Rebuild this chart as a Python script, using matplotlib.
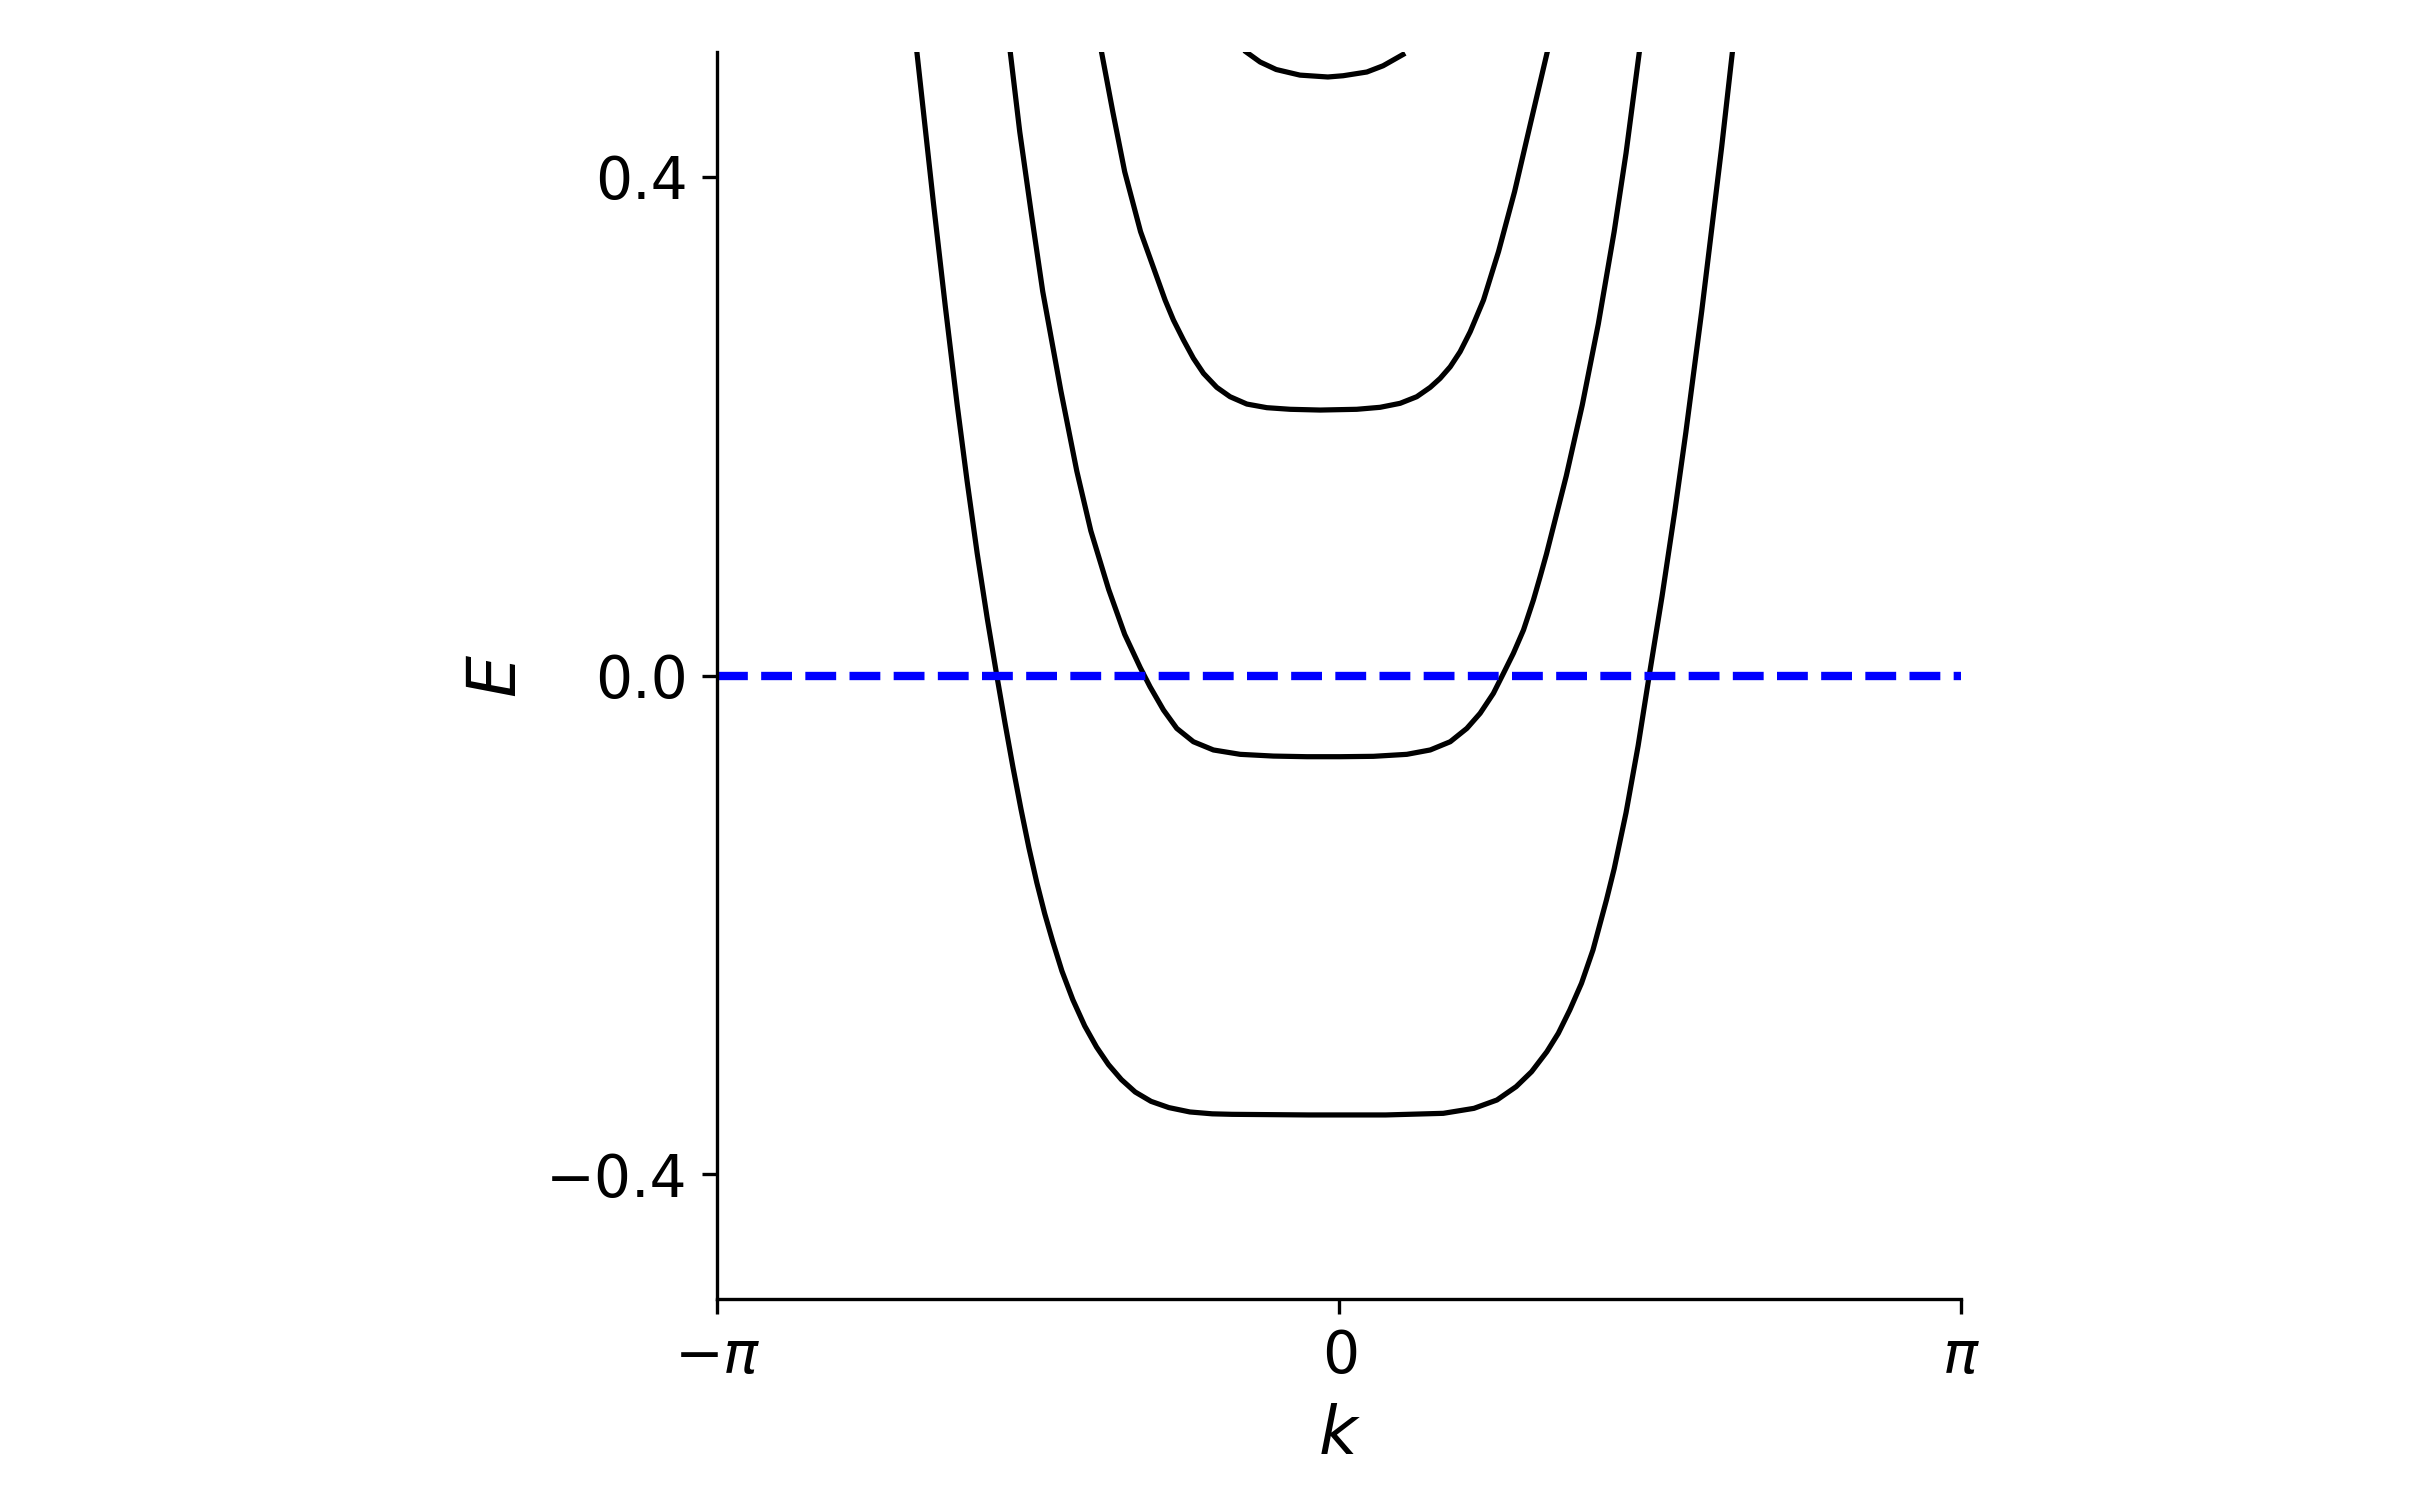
import numpy as np
import matplotlib
matplotlib.use('Agg')
import matplotlib.pyplot as plt

# bands: (k, E) pairs, left to right
k1 = [-2.136, -2.049, -1.989, -1.929, -1.879, -1.828, -1.777, -1.729, -1.687, -1.647,
      -1.607, -1.567, -1.527, -1.487, -1.447, -1.400, -1.345, -1.285, -1.225, -1.165,
      -1.100, -1.030, -0.950, -0.860, -0.754, -0.641, -0.541, -0.153, 0.235, 0.526,
      0.681, 0.797, 0.894, 0.972, 1.049, 1.107, 1.165, 1.224, 1.282, 1.350,
      1.389, 1.449, 1.510, 1.566, 1.631, 1.695, 1.751, 1.831, 1.932, 1.986]
E1 = [0.505, 0.379, 0.296, 0.217, 0.156, 0.098, 0.0456, 0.0, -0.0386, -0.0738,
      -0.107, -0.138, -0.166, -0.191, -0.213, -0.237, -0.260, -0.281, -0.298, -0.312,
      -0.324, -0.334, -0.3415, -0.3465, -0.3500, -0.3515, -0.3519, -0.3524, -0.3524, -0.3511,
      -0.3471, -0.3404, -0.3297, -0.3177, -0.3017, -0.2869, -0.2682, -0.2468, -0.2201, -0.180,
      -0.155, -0.110, -0.0563, 0.0, 0.0637, 0.1315, 0.195, 0.292, 0.424, 0.5]

k2 = [-1.661, -1.613, -1.556, -1.497, -1.405, -1.325, -1.254, -1.164, -1.083, -1.005,
      -0.955, -0.887, -0.820, -0.736, -0.635, -0.500, -0.332, -0.163, 0.005, 0.173,
      0.342, 0.460, 0.561, 0.645, 0.712, 0.779, 0.830, 0.880, 0.931, 0.981,
      1.015, 1.047, 1.147, 1.228, 1.309, 1.389, 1.449, 1.516]
E2 = [0.5, 0.436, 0.372, 0.308, 0.228, 0.164, 0.116, 0.069, 0.033, 0.0065,
      -0.0090, -0.0277, -0.0424, -0.0531, -0.0597, -0.0632, -0.0646, -0.0651, -0.0651, -0.0648,
      -0.0632, -0.0597, -0.0531, -0.0424, -0.0303, -0.0143, 0.0018, 0.0178, 0.0365, 0.0605,
      0.0792, 0.0974, 0.160, 0.217, 0.282, 0.356, 0.419, 0.5]

k3 = [-1.200, -1.143, -1.083, -1.003, -0.879, -0.837, -0.786, -0.736, -0.685, -0.618,
      -0.551, -0.466, -0.365, -0.247, -0.096, 0.089, 0.207, 0.308, 0.392, 0.460,
      0.510, 0.561, 0.611, 0.662, 0.729, 0.805, 0.886, 0.966, 1.051]
E3 = [0.5, 0.452, 0.404, 0.356, 0.3011, 0.2851, 0.2690, 0.2544, 0.2423, 0.2311,
      0.2236, 0.2177, 0.2148, 0.2135, 0.2129, 0.2135, 0.2151, 0.2183, 0.2236, 0.2311,
      0.2383, 0.2476, 0.2597, 0.2757, 0.3011, 0.340, 0.388, 0.4425, 0.5]

k4 = [-0.469, -0.399, -0.318, -0.198, -0.057, 0.020, 0.140, 0.222, 0.322]
E4 = [0.5, 0.492, 0.486, 0.4815, 0.480, 0.481, 0.484, 0.489, 0.498]

bands = [(k1, E1), (k2, E2), (k3, E3), (k4, E4)]
fermi = 0.0

fig = plt.figure(figsize=(8.04, 5.0), dpi=300)
ax = fig.add_axes([0.2973, 0.134, 0.5158, 0.8313])

for ks, es in bands:
    ax.plot(ks, es, color='k', lw=1.25)
ax.axhline(fermi, color='blue', ls='--', lw=2)

ax.set_xlim(-np.pi, np.pi)
ax.set_ylim(-0.5, 0.5)
ax.set_xticks([-np.pi, 0, np.pi])
ax.set_xticklabels([r'$-\pi$', r'$0$', r'$\pi$'])
ax.set_yticks([-0.4, 0.0, 0.4])
ax.tick_params(labelsize=14)
ax.set_xlabel(r'$k$', fontsize=16)
ax.set_ylabel(r'$E$', fontsize=16)
ax.spines['top'].set_visible(False)
ax.spines['right'].set_visible(False)

fig.savefig('out.png', dpi=300)
